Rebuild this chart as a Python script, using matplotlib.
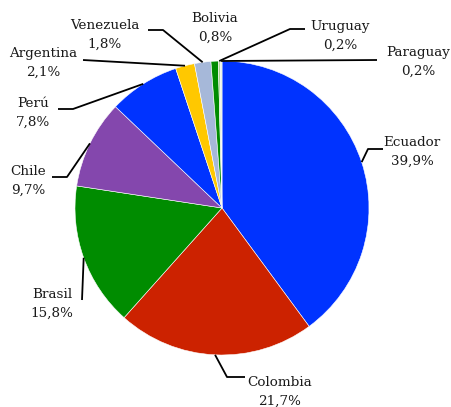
import matplotlib
matplotlib.use('Agg')
import matplotlib.pyplot as plt
import numpy as np

countries = ['Ecuador', 'Colombia', 'Brasil', 'Chile', 'Perú', 'Argentina',
             'Venezuela', 'Bolivia', 'Uruguay', 'Paraguay']
shares = [39.9, 21.7, 15.8, 9.7, 7.8, 2.1, 1.8, 0.8, 0.2, 0.2]
colors = ['#0033FF', '#CC2200', '#008C00', '#8447AD', '#0033FF', '#FFC800',
          '#A6B8D9', '#008C00', '#A9D18E', '#E2EFD9']

# label layout in pixel coords (y from top): text centre, elbow, line end
text_pos = {'Ecuador': (412, 152), 'Colombia': (280, 392), 'Brasil': (52, 304),
            'Chile': (28, 181), 'Perú': (33, 113), 'Argentina': (43, 63),
            'Venezuela': (105, 35), 'Bolivia': (215, 28), 'Uruguay': (340, 36),
            'Paraguay': (418, 62)}
elbows = {'Ecuador': [(368, 149), (383, 149)], 'Colombia': [(227, 377), (245, 377)],
          'Brasil': [(82, 300)], 'Chile': [(67, 177), (52, 177)],
          'Perú': [(73, 109), (58, 109)], 'Argentina': [(83, 60)],
          'Venezuela': [(163, 30), (148, 30)], 'Uruguay': [(290, 29), (305, 29)],
          'Paraguay': [(377, 60)]}

W, H = 452, 407
cx, cy, R = 222, 208, 147

fig = plt.figure(figsize=(W / 100, H / 100), dpi=100)
ax = fig.add_axes([0, 0, 1, 1])
wedges, _ = ax.pie(shares, colors=colors, startangle=90, counterclock=False,
                   center=(cx, H - cy), radius=R,
                   wedgeprops=dict(edgecolor='white', linewidth=0.4))
ax.set_xlim(0, W)
ax.set_ylim(0, H)
ax.set_aspect('equal')
ax.axis('off')

for w, name, val in zip(wedges, countries, shares):
    mid = np.deg2rad((w.theta1 + w.theta2) / 2)
    if name in elbows:
        xs = [cx + R * np.cos(mid)] + [p[0] for p in elbows[name]]
        ys = [H - cy + R * np.sin(mid)] + [H - p[1] for p in elbows[name]]
        ax.plot(xs, ys, color='black', lw=1.3, solid_capstyle='butt')
    tx, ty = text_pos[name]
    label = f'{name}\n{val:.1f}%'.replace('.', ',')
    ax.text(tx, H - ty, label, ha='center', va='center', fontsize=9.7,
            family='DejaVu Serif', color='#1a1a1a', linespacing=1.55)

fig.savefig('out.png', dpi=100)
